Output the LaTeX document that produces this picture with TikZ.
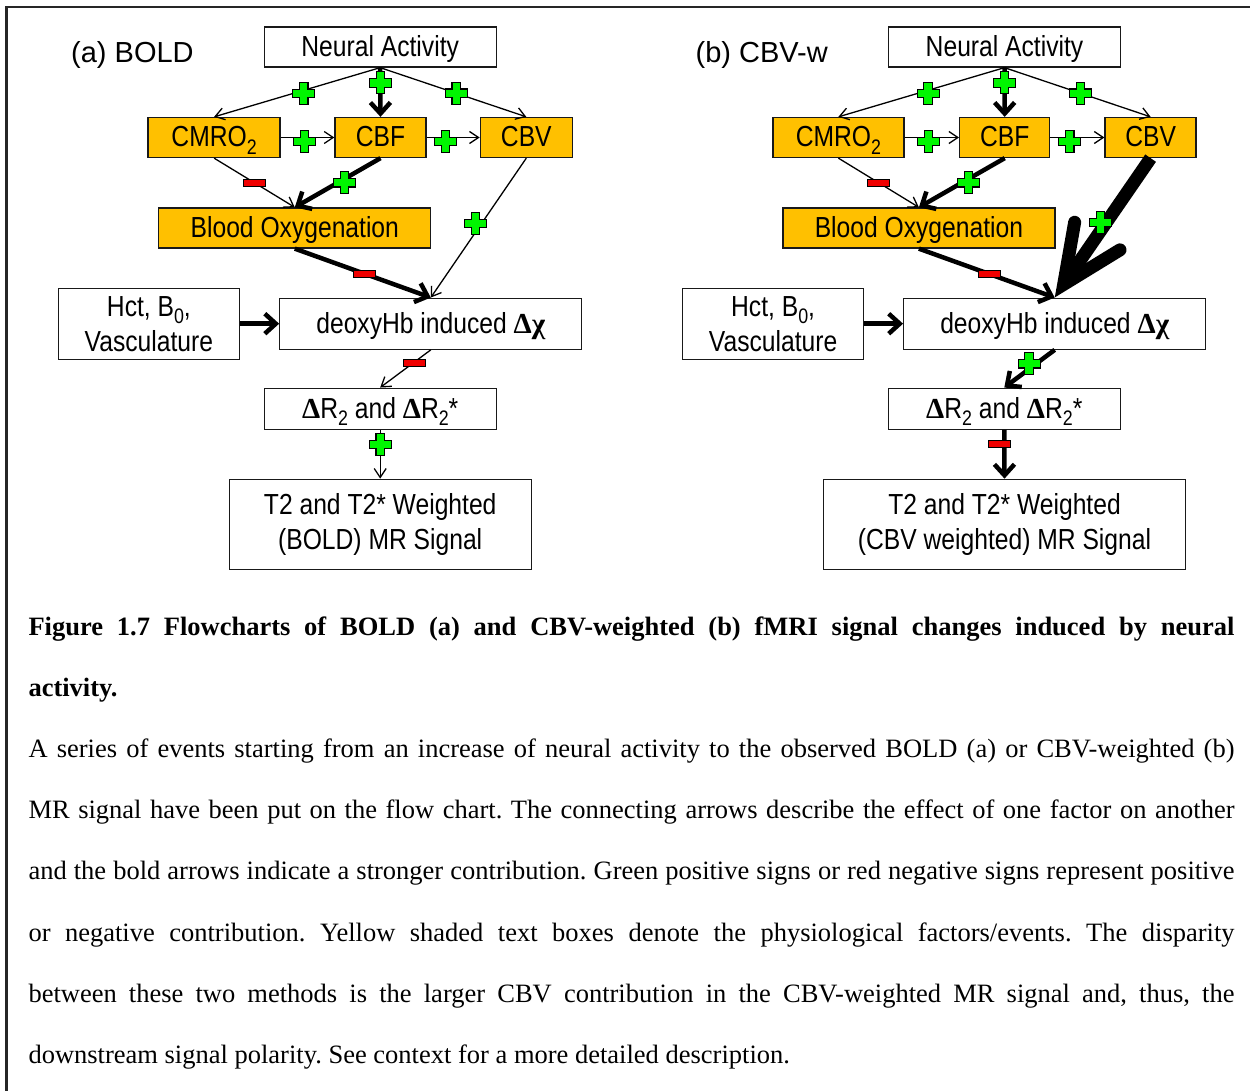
\documentclass[tikz,border=0pt]{standalone}
\usepackage{fontspec}
\setmainfont{Liberation Serif}
\newfontfamily\boxfont[FakeStretch=0.85]{Liberation Sans}
\newfontfamily\panelfont{Liberation Sans}
\newfontfamily\symfont{Liberation Serif}
\usetikzlibrary{arrows.meta,calc}
\frenchspacing

\definecolor{gold}{RGB}{255,192,0}
\definecolor{plusgreen}{RGB}{0,245,0}
\definecolor{minusred}{RGB}{240,0,0}

% lowered index digit used in CMRO2, B0, R2
\newcommand\lowsub[1]{\raisebox{-7.5pt}{\fontsize{21}{21}\selectfont #1}}
% bold Greek symbols
\newcommand\gk[1]{{\symfont\bfseries #1}}

\begin{document}
\begin{tikzpicture}[x=1pt,y=-1pt,
  every node/.style={inner sep=0pt},
  fbox/.style={draw=black!90, line width=1.3pt, align=center,
    font=\boxfont\fontsize{29}{35}\selectfont},
  oneline/.style={text height=24pt, text depth=5pt},
  physbox/.style={fbox, oneline, fill=gold},
  weak/.style={line width=1.3pt, -{Straight Barb[length=9pt,width=12pt]}},
  strong/.style={line width=4.5pt, -{Straight Barb[length=11pt,width=20pt]}},
  plussign/.style={minimum size=24pt, path picture={
    \draw[line width=1.1pt, draw=black, fill=plusgreen,
          shift={(path picture bounding box.center)}]
      (-4.2,-11) -- (4.2,-11) -- (4.2,-4.2) -- (11,-4.2) -- (11,4.2) -- (4.2,4.2)
      -- (4.2,11) -- (-4.2,11) -- (-4.2,4.2) -- (-11,4.2) -- (-11,-4.2)
      -- (-4.2,-4.2) -- cycle;}},
  minussign/.style={draw=black, line width=1pt, fill=minusred,
    minimum width=22pt, minimum height=7pt},
  captext/.style={anchor=base west, font=\fontsize{26.5}{30}\selectfont}
]
\useasboundingbox (0,0) rectangle (1250,1091);

% outer frame
\draw[line width=2.2pt, draw=black!85] (1250,7) -- (6.5,7) -- (6.5,1091);

% ---------------- panel (a): BOLD ----------------
\node[anchor=base west, font=\panelfont\fontsize{29}{35}\selectfont] (labA) at (71,62.7) {(a) BOLD};

\node[fbox, oneline, minimum width=232pt, minimum height=40pt] (naA) at (380.2,47) {Neural Activity};
\node[physbox, minimum width=132pt, minimum height=40pt] (cmA) at (214.1,137.5) {CMRO\lowsub{2}};
\node[physbox, minimum width=91pt, minimum height=40pt] (cbfA) at (380.5,137.5) {CBF};
\node[physbox, minimum width=92pt, minimum height=40pt] (cbvA) at (526.3,137.5) {CBV};
\node[physbox, minimum width=272pt, minimum height=40pt] (boA) at (294.8,228) {Blood Oxygenation};
\node[fbox, minimum width=181pt, minimum height=71pt] (hctA) at (148.9,323.7) {Hct, B\lowsub{0},\\Vasculature};
\node[fbox, oneline, minimum width=302pt, minimum height=51pt] (dxA) at (430.8,323.7) {deoxyHb induced \gk{Δχ}};
\node[fbox, oneline, minimum width=232pt, minimum height=41pt] (rA) at (380.2,408.7) {\gk{Δ}R\lowsub{2} and \gk{Δ}R\lowsub{2}*};
\node[fbox, minimum width=302pt, minimum height=90pt] (sigA) at (380.2,524.3) {T2 and T2* Weighted\\(BOLD) MR Signal};

\draw[weak] (naA.south) -- node[plussign, pos=0.46, yshift=-3pt] (sA1) {} (cmA.north);
\draw[strong] (naA.south) -- node[plussign, pos=0.31] (sA2) {} (cbfA.north);
\draw[weak] (naA.south) -- node[plussign, pos=0.52] (sA3) {} (cbvA.north);
\draw[weak] (cmA.east) -- node[plussign, pos=0.44, yshift=-4pt] (sA4) {} (cbfA.west);
\draw[weak] (cbfA.east) -- node[plussign, pos=0.36, yshift=-4pt] (sA5) {} (cbvA.west);
\draw[weak] (cmA.south) -- node[minussign, pos=0.5] (sA6) {} (boA.north);
\draw[strong] (cbfA.south) -- node[plussign, pos=0.42, yshift=-4pt] (sA7) {} (boA.north);
\draw[weak] (cbvA.south) -- node[plussign, pos=0.47, xshift=-6pt] (sA8) {} (dxA.north);
\draw[strong] (boA.south) -- node[minussign, pos=0.51] (sA9) {} (dxA.north);
\draw[strong] (hctA.east) -- (dxA.west);
\draw[weak] (dxA.south) -- node[minussign, pos=0.32, yshift=-1pt] (sA10) {} (rA.north);
\draw[weak] (rA.south) -- node[plussign, pos=0.3] (sA11) {} (sigA.north);

% ---------------- panel (b): CBV-weighted ----------------
\node[anchor=base west, font=\panelfont\fontsize{29}{35}\selectfont] (labB) at (695.5,62.7) {(b) CBV-w};

\node[fbox, oneline, minimum width=232pt, minimum height=40pt] (naB) at (1004.5,47) {Neural Activity};
\node[physbox, minimum width=131pt, minimum height=40pt] (cmB) at (838.4,137.5) {CMRO\lowsub{2}};
\node[physbox, minimum width=90pt, minimum height=40pt] (cbfB) at (1004.7,137.5) {CBF};
\node[physbox, minimum width=91pt, minimum height=40pt] (cbvB) at (1150.6,137.5) {CBV};
\node[physbox, minimum width=272pt, minimum height=40pt] (boB) at (918.9,228) {Blood Oxygenation};
\node[fbox, minimum width=181pt, minimum height=71pt] (hctB) at (773.1,323.7) {Hct, B\lowsub{0},\\Vasculature};
\node[fbox, oneline, minimum width=302pt, minimum height=51pt] (dxB) at (1054.7,323.7) {deoxyHb induced \gk{Δχ}};
\node[fbox, oneline, minimum width=232pt, minimum height=41pt] (rB) at (1004.3,408.7) {\gk{Δ}R\lowsub{2} and \gk{Δ}R\lowsub{2}*};
\node[fbox, minimum width=362pt, minimum height=90pt] (sigB) at (1004.5,524.3) {T2 and T2* Weighted\\(CBV weighted) MR Signal};

\draw[weak] (naB.south) -- node[plussign, pos=0.46, yshift=-3pt] (sB1) {} (cmB.north);
\draw[strong] (naB.south) -- node[plussign, pos=0.31] (sB2) {} (cbfB.north);
\draw[weak] (naB.south) -- node[plussign, pos=0.52] (sB3) {} (cbvB.north);
\draw[weak] (cmB.east) -- node[plussign, pos=0.44, yshift=-4pt] (sB4) {} (cbfB.west);
\draw[weak] (cbfB.east) -- node[plussign, pos=0.36, yshift=-4pt] (sB5) {} (cbvB.west);
\draw[weak] (cmB.south) -- node[minussign, pos=0.5] (sB6) {} (boB.north);
\draw[strong] (cbfB.south) -- node[plussign, pos=0.42, yshift=-4pt] (sB7) {} (boB.north);
\draw[strong] (boB.south) -- node[minussign, pos=0.52] (sB9) {} (dxB.north);

% very strong CBV contribution: wide shaft and a barbed head
\coordinate (vB) at ($(dxB.north)+(9,-13.2)$);
\draw[line width=13pt] (cbvB.south) -- node[plussign, pos=0.51, xshift=-6pt] (sB8) {} (vB);
\draw[line width=13pt, line cap=round, line join=miter]
  ($(vB)+(-80:63)$) -- (vB) -- ($(vB)+(-31.5:66)$);

\draw[strong] (hctB.east) -- (dxB.west);
\draw[strong] (dxB.south) -- node[plussign, pos=0.37, xshift=-7pt] (sB10) {} (rB.north);
\draw[strong] (rB.south) -- node[minussign, pos=0.3, xshift=-4.5pt] (sB11) {} (sigB.north);

% ---------------- caption ----------------
\node[captext, font=\fontsize{26.5}{30}\selectfont\bfseries] (cap1) at (28.3,635)
  {\makebox[1206pt][s]{Figure 1.7 Flowcharts of BOLD (a) and CBV-weighted (b) fMRI signal changes induced by neural}};
\node[captext, font=\fontsize{26.5}{30}\selectfont\bfseries] (cap2) at (28.3,696.2) {activity.};
\node[captext] (cap3) at (28.3,757.4)
  {\makebox[1206pt][s]{A series of events starting from an increase of neural activity to the observed BOLD (a) or CBV-weighted (b)}};
\node[captext] (cap4) at (28.3,818.6)
  {\makebox[1206pt][s]{MR signal have been put on the flow chart. The connecting arrows describe the effect of one factor on another}};
\node[captext] (cap5) at (28.3,879.8)
  {\makebox[1206pt][s]{and the bold arrows indicate a stronger contribution. Green positive signs or red negative signs represent positive}};
\node[captext] (cap6) at (28.3,941)
  {\makebox[1206pt][s]{or negative contribution. Yellow shaded text boxes denote the physiological factors/events. The disparity}};
\node[captext] (cap7) at (28.3,1002.2)
  {\makebox[1206pt][s]{between these two methods is the larger CBV contribution in the CBV-weighted MR signal and, thus, the}};
\node[captext] (cap8) at (28.3,1063.4)
  {downstream signal polarity. See context for a more detailed description.};
\end{tikzpicture}
\end{document}
